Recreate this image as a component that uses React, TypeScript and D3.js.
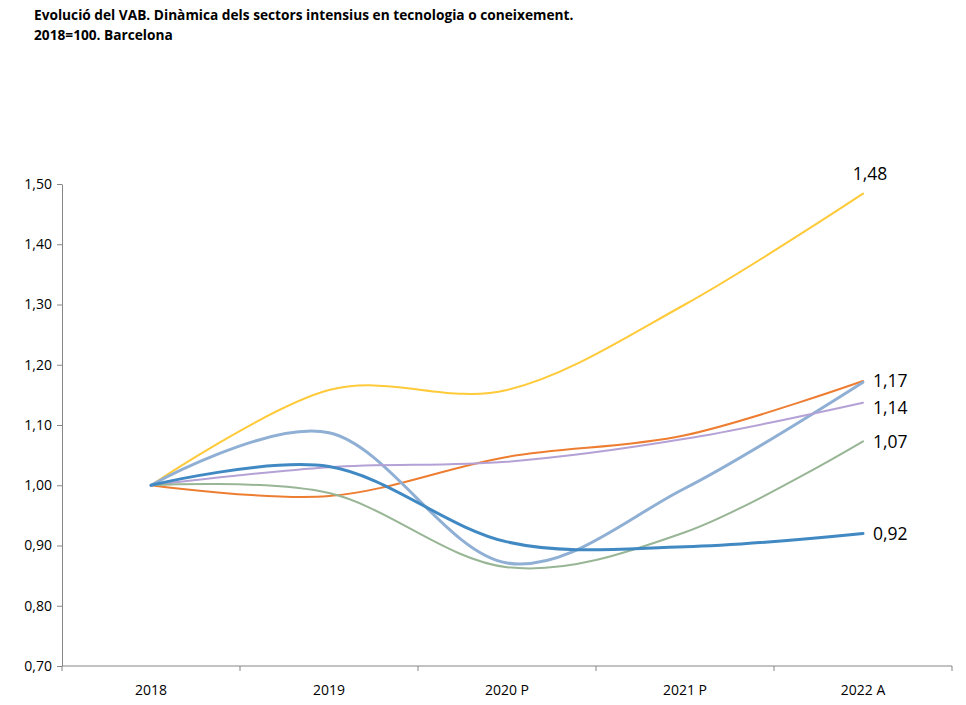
import React, { useEffect, useRef } from 'react';
import * as d3 from 'd3';

const categories = ['2018', '2019', '2020 P', '2021 P', '2022 A'];
const yTicks = [0.7, 0.8, 0.9, 1.0, 1.1, 1.2, 1.3, 1.4, 1.5];

const serieGroc = [1.0, 1.158, 1.158, 1.30, 1.484];
const serieTaronja = [1.0, 0.982, 1.047, 1.083, 1.173];
const serieBlauClar = [1.0, 1.087, 0.871, 0.995, 1.171];
const serieLila = [1.0, 1.03, 1.039, 1.077, 1.137];
const serieBlau = [1.0, 1.031, 0.906, 0.898, 0.92];
const serieVerd = [1.0, 0.987, 0.864, 0.922, 1.073];

const series = [
    { name: 'groc', values: serieGroc, color: '#FFCA3A', width: 2, label: '1,48', labelAbove: true, dy: 0 },
    { name: 'taronja', values: serieTaronja, color: '#ED7D31', width: 2, label: '1,17', labelAbove: false, dy: 6 },
    { name: 'blauClar', values: serieBlauClar, color: '#8FAFD4', width: 3, label: '', labelAbove: false, dy: 0 },
    { name: 'lila', values: serieLila, color: '#B4A1D6', width: 2, label: '1,14', labelAbove: false, dy: 11 },
    { name: 'verd', values: serieVerd, color: '#98B695', width: 2, label: '1,07', labelAbove: false, dy: 7 },
    { name: 'blau', values: serieBlau, color: '#4189C3', width: 3, label: '0,92', labelAbove: false, dy: 7 },
];

const fmt = (v: number) => v.toFixed(2).replace('.', ',');
const FONT = '"Open Sans", Carlito, sans-serif';

const App: React.FC = () => {
    const ref = useRef<SVGSVGElement | null>(null);

    useEffect(() => {
        if (!ref.current) return;
        const width = 966;
        const height = 705;
        const margin = { top: 184, right: 14, bottom: 39, left: 62 };

        const svg = d3.select(ref.current);
        svg.selectAll('*').remove();
        svg.attr('width', width).attr('height', height);

        // títol
        const title = svg.append('g').style('font-family', FONT).style('font-weight', 'bold').style('font-size', '13.7px').attr('fill', '#000');
        title.append('text').attr('x', 34).attr('y', 20).text('Evolució del VAB. Dinàmica dels sectors intensius en tecnologia o coneixement.');
        title.append('text').attr('x', 34).attr('y', 40).text('2018=100. Barcelona');

        const x = d3.scaleBand().domain(categories).range([margin.left, width - margin.right]).padding(0);
        const y = d3.scaleLinear().domain([0.7, 1.5]).range([height - margin.bottom, margin.top]);
        const cx = (c: string) => x(c)! + x.bandwidth() / 2;

        // eix Y
        const yAxis = svg.append('g')
            .attr('transform', `translate(${margin.left},0)`)
            .call(d3.axisLeft(y).tickValues(yTicks).tickSize(5).tickSizeOuter(0).tickFormat(d => fmt(d as number)));
        yAxis.select('.domain').attr('stroke', '#868686');
        yAxis.selectAll('.tick line').attr('stroke', '#868686');
        yAxis.selectAll('.tick text').attr('x', -10).style('font-family', FONT).style('font-size', '14px').attr('fill', '#000');

        // eix X
        const xAxis = svg.append('g').attr('transform', `translate(0,${height - margin.bottom})`);
        xAxis.append('line').attr('x1', margin.left).attr('x2', width - margin.right).attr('stroke', '#868686');
        const bounds = categories.map(c => x(c)!).concat([x(categories[categories.length - 1])! + x.bandwidth()]);
        xAxis.selectAll('line.tk').data(bounds).enter().append('line')
            .attr('class', 'tk')
            .attr('x1', d => d).attr('x2', d => d).attr('y1', 0).attr('y2', 5)
            .attr('stroke', '#868686');
        xAxis.selectAll('text').data(categories).enter().append('text')
            .attr('x', d => cx(d)).attr('y', 29).attr('text-anchor', 'middle')
            .style('font-family', FONT).style('font-size', '14px').attr('fill', '#000')
            .text(d => d);

        // línies
        const line = d3.line<number>()
            .x((_, i) => cx(categories[i]))
            .y(d => y(d))
            .curve(d3.curveCatmullRom.alpha(0));

        series.forEach(s => {
            svg.append('path')
                .datum(s.values)
                .attr('fill', 'none')
                .attr('stroke', s.color)
                .attr('stroke-width', s.width)
                .attr('stroke-linecap', 'round')
                .attr('d', line);
        });

        // etiquetes finals
        const lastX = cx(categories[categories.length - 1]);
        series.filter(s => s.label).forEach(s => {
            const v = s.values[s.values.length - 1];
            svg.append('text')
                .attr('x', s.labelAbove ? lastX + 7 : lastX + 10)
                .attr('y', s.labelAbove ? y(v) - 14 : y(v) + s.dy)
                .attr('text-anchor', s.labelAbove ? 'middle' : 'start')
                .style('font-family', FONT).style('font-size', '17.5px').attr('fill', '#000')
                .text(s.label);
        });
    }, []);

    return <svg ref={ref} style={{ position: 'absolute', left: 0, top: 0, background: '#fff' }} />;
};

export default App;
